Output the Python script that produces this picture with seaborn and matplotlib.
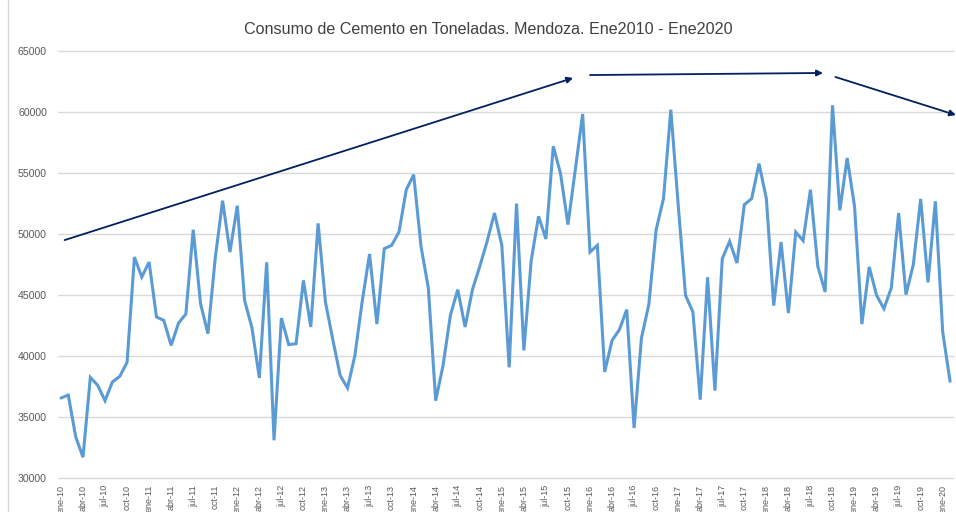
import matplotlib
matplotlib.use("Agg")
import numpy as np
import pandas as pd
import matplotlib.pyplot as plt
import seaborn as sns

# Consumo mensual de cemento (toneladas), ene-2010 .. feb-2020
consumo = [
    36550, 36800, 33400, 31700, 38250, 37600, 36340, 37870, 38330, 39480, 48110, 46470,  # 2010
    47700, 43200, 42920, 40870, 42700, 43440, 50350, 44290, 41830, 48030, 52730, 48520,  # 2011
    52320, 44540, 42300, 38200, 47680, 33090, 43110, 40930, 41010, 46200, 42380, 50870,  # 2012
    44420, 41330, 38410, 37380, 40030, 44480, 48360, 42620, 48800, 49070, 50160, 53630,  # 2013
    54860, 48990, 45570, 36340, 39230, 43330, 45440, 42380, 45440, 47350, 49400, 51720,  # 2014
    49070, 39070, 52490, 40460, 47840, 51450, 49590, 57190, 54920, 50770, 55270, 59840,  # 2015
    48520, 49070, 38690, 41280, 42160, 43800, 34100, 41470, 44210, 50350, 52900, 60190,  # 2016
    52400, 44970, 43610, 36420, 46450, 37160, 47980, 49400, 47620, 52400, 52900, 55770,  # 2017
    52900, 44130, 49340, 43520, 50160, 49450, 53630, 47350, 45250, 60550, 51940, 56230,  # 2018
    52270, 42620, 47300, 44970, 43880, 45570, 51720, 45030, 47490, 52870, 46040, 52680,  # 2019
    41970, 37920,                                                                        # 2020
]
meses = ["ene", "abr", "jul", "oct"]
tick_labels = [f"{m}-{a:02d}" for a in range(10, 21) for m in meses][:41]

# flechas de tendencia dibujadas a mano (indice de mes, toneladas)
flecha_ini = [(0.5, 49500), (72.0, 63030), (105.4, 62870)]
flecha_fin = [(69.7, 62790), (103.7, 63200), (121.8, 59750)]

df = pd.DataFrame({"mes": np.arange(len(consumo)), "toneladas": consumo})

sns.set_style("white")
plt.rcParams["font.family"] = ["Liberation Sans", "DejaVu Sans"]

fig = plt.figure(figsize=(9.56, 5.12), dpi=100)
ax = fig.add_axes([58 / 956, 1 - 478 / 512, 895 / 956, 427 / 512])

sns.lineplot(data=df, x="mes", y="toneladas", ax=ax, color="#5B9BD5",
             linewidth=2.2, solid_joinstyle="miter")

ax.set_ylim(30000, 65000)
ax.set_yticks(range(30000, 65001, 5000))
ax.set_xlim(-0.4, len(consumo) - 0.6)
ax.set_xticks(range(0, 121, 3))
ax.set_xticklabels(tick_labels, rotation=90, fontsize=6.5, color="#595959")
ax.tick_params(axis="y", labelsize=7.6, colors="#595959", length=0, pad=8)
ax.tick_params(axis="x", length=0, pad=5)
ax.grid(axis="y", color="#D9D9D9", linewidth=1.0, clip_on=False)
ax.set_axisbelow(True)
for s in ax.spines.values():
    s.set_visible(False)
ax.set_xlabel("")
ax.set_ylabel("")

for ini, fin in zip(flecha_ini, flecha_fin):
    ax.annotate("", xy=fin, xytext=ini, annotation_clip=False,
                arrowprops=dict(arrowstyle="-|>", color="#002060", lw=1.3,
                                mutation_scale=9, shrinkA=0, shrinkB=0))

fig.text(488 / 956, 1 - 30 / 512, "Consumo de Cemento en Toneladas. Mendoza. Ene2010 - Ene2020",
         ha="center", va="center", fontsize=11.6, color="#404040")
fig.add_artist(plt.Line2D([8 / 956, 8 / 956], [0, 1], color="#D9D9D9", lw=1))

fig.savefig("out.png", dpi=100)
